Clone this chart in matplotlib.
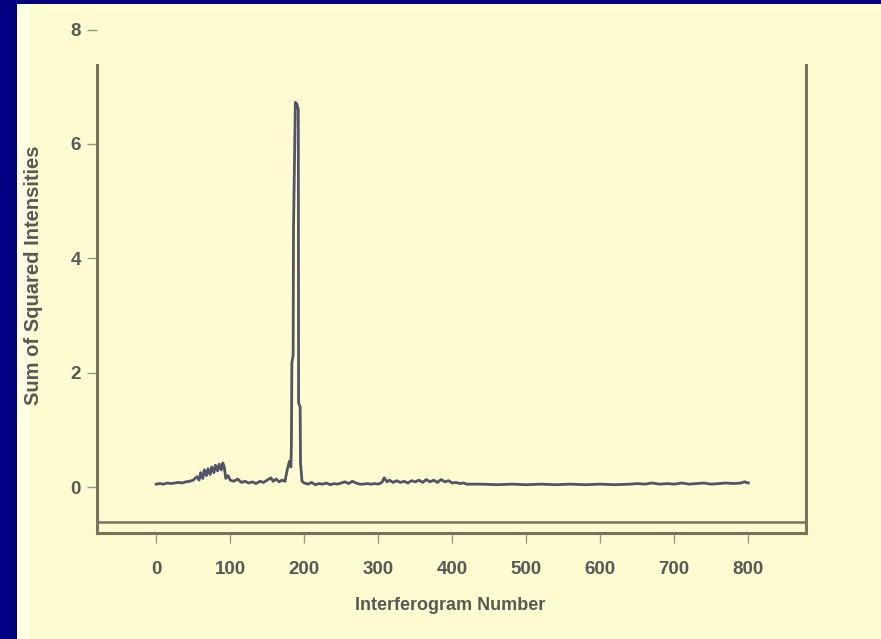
import matplotlib.pyplot as plt
from matplotlib.patches import Rectangle

# interferogram number vs. sum of squared intensities
frame_x = [0, 5, 10, 15, 20, 25, 30, 35, 40, 45, 50, 55, 58, 60, 63, 65, 68, 70,
           73, 75, 78, 80, 83, 85, 88, 90, 92, 94, 97, 100, 105, 110, 115, 120,
           125, 130, 135, 140, 145, 150, 155, 158, 162, 166, 170, 174, 177, 180,
           182, 182.7, 183.3, 185, 185.5, 188, 190, 192, 192.4, 194.5, 195, 197,
           200, 205,
           210, 215, 220, 225, 230, 235, 240, 245, 250, 255, 260, 265, 270, 275,
           280, 285, 290, 295, 300, 305, 308, 312, 315, 320, 325, 330, 335, 340,
           345, 350, 355, 360, 365, 370, 375, 380, 385, 390, 395, 400, 405, 410,
           415, 420, 440, 460, 480, 500, 520, 540, 560, 580, 600, 620, 640, 650,
           660, 670, 680, 690, 700, 710, 720, 730, 740, 750, 760, 770, 780, 790,
           795, 800]
sum_sq = [0.05, 0.06, 0.05, 0.07, 0.06, 0.07, 0.08, 0.07, 0.09, 0.10, 0.12, 0.18,
          0.12, 0.25, 0.15, 0.30, 0.20, 0.32, 0.22, 0.35, 0.25, 0.38, 0.28, 0.40,
          0.30, 0.42, 0.35, 0.15, 0.20, 0.12, 0.10, 0.14, 0.08, 0.10, 0.07, 0.09,
          0.06, 0.10, 0.08, 0.12, 0.16, 0.10, 0.14, 0.09, 0.12, 0.10, 0.30, 0.45,
          0.35, 0.77, 2.17, 2.30, 4.50, 6.73, 6.70, 6.60, 1.47, 1.40, 0.42, 0.10,
          0.07, 0.05,
          0.08, 0.04, 0.06, 0.05, 0.07, 0.04, 0.06, 0.05, 0.07, 0.09,
          0.06, 0.10, 0.07, 0.05, 0.05, 0.06, 0.05, 0.06, 0.05, 0.08, 0.16, 0.09,
          0.12, 0.08, 0.11, 0.08, 0.10, 0.07, 0.11, 0.09, 0.12, 0.08, 0.13, 0.09,
          0.12, 0.08, 0.13, 0.09, 0.11, 0.07, 0.08, 0.06, 0.07, 0.05, 0.05, 0.04,
          0.05, 0.04, 0.05, 0.04, 0.05, 0.04, 0.05, 0.04, 0.05, 0.06, 0.05, 0.07,
          0.05, 0.06, 0.05, 0.07, 0.05, 0.06, 0.07, 0.05, 0.06, 0.07, 0.06, 0.07,
          0.09, 0.07]

xticks = [0, 100, 200, 300, 400, 500, 600, 700, 800]
yticks = [0, 2, 4, 6, 8]

navy = '#000080'
cream = '#FFFBD0'
axcol = '#777260'
txtcol = '#585858'

fig = plt.figure(figsize=(8.81, 6.39), dpi=100, facecolor=navy)
fig.patches.append(Rectangle((17/881, 0), 1, 1 - 4/639, transform=fig.transFigure,
                             facecolor=cream, edgecolor='none', zorder=-10))
fig.patches.append(Rectangle((17/881, 0), 13/881, 1 - 4/639, transform=fig.transFigure,
                             facecolor='#FFFDE2', edgecolor='none', zorder=-9))

# pixel layout: y=0 at 487px, 57.17 px per unit; x=0 at 156px, 0.74 px per unit
ytop, ybot = 8.2, -0.8
top_px = 487 - ytop * 57.17
bot_px = 487 - ybot * 57.17
ax = fig.add_axes([97/881, 1 - bot_px/639, (806 - 97)/881, (bot_px - top_px)/639])
ax.patch.set_alpha(0)

xl, xr = -80, 878
ax.set_xlim(xl, xr)
ax.set_ylim(ybot, ytop)

ax.plot(frame_x, sum_sq, color='#52526a', lw=2)

# R style open box
for s in ax.spines.values():
    s.set_visible(False)
yframe_top = 7.39
ax.plot([xl, xl], [ybot, yframe_top], color=axcol, lw=2.2, clip_on=False)
ax.plot([xr, xr], [ybot, yframe_top], color=axcol, lw=2.2, clip_on=False)
ax.plot([xl, xr], [ybot, ybot], color=axcol, lw=2.2, clip_on=False)
ax.axhline(-0.62, color=axcol, lw=1.8)

ax.set_xticks(xticks)
ax.set_yticks(yticks)
ax.tick_params(axis='x', length=7.5, width=1, color='#9a9680', pad=13,
               labelsize=13.5, labelcolor=txtcol)
ax.tick_params(axis='y', length=7.5, width=1, color='#9a9680', pad=4,
               labelsize=13.5, labelcolor=txtcol)
for lab in ax.get_xticklabels() + ax.get_yticklabels():
    lab.set_fontfamily('Liberation Sans')
    lab.set_fontweight('bold')

fig.text(450/881, 1 - 605/639, 'Interferogram Number', ha='center', va='center',
         fontsize=13, color=txtcol, family='Liberation Sans', weight='bold')
fig.text(34/881, 1 - 275/639, 'Sum of Squared Intensities', ha='center', va='center',
         rotation=90, fontsize=14.5, color=txtcol, family='Liberation Sans', weight='bold')

fig.savefig('out.png', dpi=100, facecolor=navy)
